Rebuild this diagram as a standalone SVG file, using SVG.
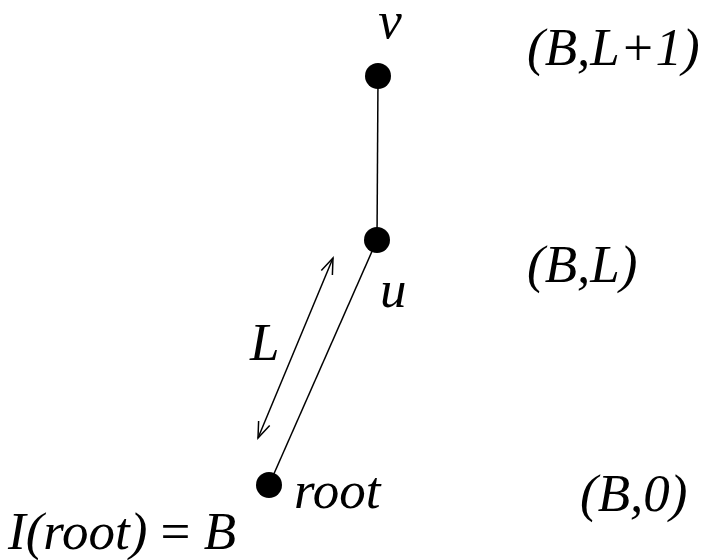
<svg xmlns="http://www.w3.org/2000/svg" width="704" height="560" viewBox="0 0 704 560">
<style>
text{font-family:"Liberation Serif","Times New Roman",serif;font-style:italic;font-size:53px;fill:#000}
.e{stroke:#000;stroke-width:1.5;fill:none}
.n{fill:#000}
</style>
<defs>
<marker id="ah" viewBox="0 0 20 20" refX="18" refY="10" markerWidth="20" markerHeight="20" markerUnits="userSpaceOnUse" orient="auto-start-reverse">
<path d="M2,4 L18,10 L2,16" fill="none" stroke="#000" stroke-width="1.5"/>
</marker>
</defs>
<rect width="704" height="560" fill="#fff"/>
<g id="connectors">
<line class="e" x1="378" y1="76" x2="377" y2="240"/>
<line class="e" x1="377" y1="240" x2="269" y2="485"/>
<line class="e" x1="333" y1="258" x2="258" y2="438" marker-start="url(#ah)" marker-end="url(#ah)"/>
</g>
<g id="node-v">
<circle class="n" cx="378" cy="76" r="13"/>
<text x="390" y="38" text-anchor="middle">v</text>
</g>
<g id="node-u">
<circle class="n" cx="377" cy="240" r="13"/>
<text x="380" y="307">u</text>
</g>
<g id="node-root">
<circle class="n" cx="269" cy="485" r="13"/>
<text x="294" y="508">root</text>
</g>
<g id="label-L">
<text x="250" y="360">L</text>
</g>
<g id="level-labels">
<text x="527" y="65">(B,L+1)</text>
<text x="527" y="282">(B,L)</text>
<text x="580" y="511">(B,0)</text>
</g>
<text x="8" y="549">I(root) <tspan font-style="normal">=</tspan> B</text>
</svg>
